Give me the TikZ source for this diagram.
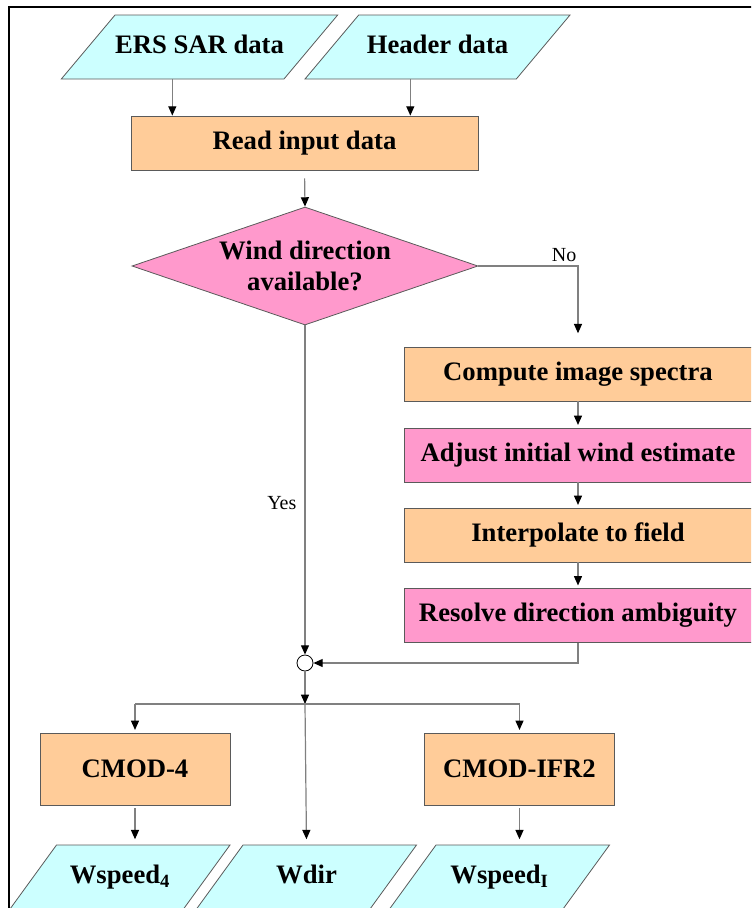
\documentclass[tikz,border=0pt]{standalone}
\usepackage{fontspec}
\setmainfont{Liberation Serif}
\usetikzlibrary{shapes.geometric,arrows.meta}
\definecolor{datacyan}{RGB}{204,255,255}
\definecolor{procorange}{RGB}{255,204,153}
\definecolor{procpink}{RGB}{255,153,204}
\definecolor{edgegray}{RGB}{90,90,90}
\definecolor{linegray}{RGB}{128,128,128}
\tikzset{
  boxfont/.style={font=\fontsize{20}{23}\selectfont\bfseries},
  databox/.style={trapezium, trapezium left angle=50, trapezium right angle=130,
    trapezium stretches body, draw=edgegray, line width=0.6pt, fill=datacyan,
    text height=14pt, text depth=4pt, inner ysep=15pt, inner xsep=0pt, boxfont},
  procbox/.style={rectangle, draw=edgegray, line width=0.6pt, fill=procorange,
    minimum height=40.5pt, inner sep=0pt, boxfont},
  pinkbox/.style={procbox, fill=procpink},
  decision/.style={diamond, aspect=2.9, draw=edgegray, line width=0.6pt, fill=procpink,
    minimum width=259.5pt, minimum height=88.5pt, inner sep=0pt, align=center, boxfont},
  junction/.style={circle, draw=black, line width=0.6pt, fill=white, minimum size=12pt, inner sep=0pt},
  link/.style={draw=linegray, line width=0.9pt},
  arr/.style={link, -{Triangle[length=7pt,width=6pt,black]}},
  lbl/.style={font=\fontsize{15}{17}\selectfont}
}
\begin{document}
\begin{tikzpicture}[x=0.75pt,y=0.75pt,yscale=-1,xscale=1]
    \useasboundingbox (0,0) rectangle (751,908);
    \clip (0,0) rectangle (751,908);
    % frame
    \draw[line width=1.6pt] (9,7) rectangle (770,930);

    % inputs
    \node[databox, minimum width=198.75pt] (ers) at (199.5,47) {ERS SAR data};
    \node[databox, minimum width=198.75pt] (header) at (437.5,47) {Header data};
    \node[procbox, minimum width=260.25pt] (read) at (304.5,143) {Read input data};
    \node[decision] (wind) at (305,266) {Wind direction\\available?};

    % no branch
    \node[procbox, minimum width=261pt] (spectra) at (578,374) {Compute image spectra};
    \node[pinkbox, minimum width=261pt] (adjust) at (578,455) {Adjust initial wind estimate};
    \node[procbox, minimum width=261pt] (interp) at (578,535) {Interpolate to field};
    \node[pinkbox, minimum width=261pt] (resolve) at (578,615.5) {Resolve direction ambiguity};

    \node[junction] (junc) at (305,663) {};
    \coordinate (split) at (305,704);

    % outputs
    \node[procbox, minimum width=142.5pt, minimum height=54pt] (cmod4) at (135,769) {CMOD-4};
    \node[procbox, minimum width=142.5pt, minimum height=54pt] (ifr2) at (519.5,769) {CMOD-IFR2};
    \node[databox, trapezium left angle=54, trapezium right angle=126, minimum width=165pt] (wsp4) at (120,877) {Wspeed\textsubscript{4}};
    \node[databox, trapezium left angle=54, trapezium right angle=126, minimum width=165pt] (wdir) at (306.5,877) {Wdir};
    \node[databox, trapezium left angle=54, trapezium right angle=126, minimum width=165pt] (wspI) at (499.5,877) {Wspeed\textsubscript{I}};

    % connectors
    \draw[arr] (ers.bottom side) -- (ers.bottom side |- read.north);
    \draw[arr] (header.bottom side) -- (header.bottom side |- read.north);
    \draw[arr, shorten <=6pt] (read.south) -- (wind.north);
    \draw[arr, shorten >=10pt] (wind.east) -| node[lbl, pos=0.43, anchor=south, inner sep=3pt] {No} (spectra.north);
    \draw[arr, shorten >=2pt] (spectra.south) -- (adjust.north);
    \draw[arr, shorten >=2pt] (adjust.south) -- (interp.north);
    \draw[arr, shorten >=2pt] (interp.south) -- (resolve.north);
    \draw[arr] (resolve.south) |- (junc.east);
    \draw[arr] (wind.south) -- node[lbl, pos=0.54, left, inner sep=6pt] {Yes} (junc.north);
    \draw[arr] (junc.south) -- (split);
    \draw[link] (cmod4.north |- split) -- (ifr2.north |- split);
    \draw[arr, shorten >=2pt] (cmod4.north |- split) -- (cmod4.north);
    \draw[arr, shorten >=2pt] (ifr2.north |- split) -- (ifr2.north);
    \draw[arr, shorten >=4pt] (split) -- (wdir.north);
    \draw[arr, shorten <=2pt, shorten >=4pt] (cmod4.south) -- (cmod4.south |- wsp4.north);
    \draw[arr, shorten <=2pt, shorten >=4pt] (ifr2.south) -- (ifr2.south |- wspI.north);
\end{tikzpicture}
\end{document}
